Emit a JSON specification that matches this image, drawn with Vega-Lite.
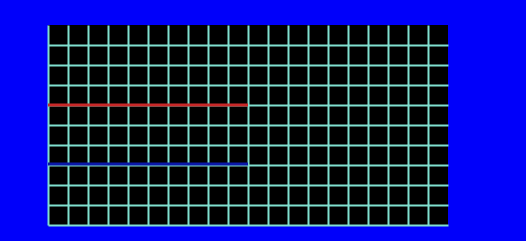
{
  "$schema": "https://vega.github.io/schema/vega-lite/v6.json",
  "width": 400,
  "height": 200,
  "autosize": "none",
  "padding": {"left": 48, "top": 25, "right": 78, "bottom": 16},
  "background": "#0000fa",
  "config": {
    "view": {"fill": "#000000", "stroke": null},
    "axis": {
      "labels": false,
      "ticks": false,
      "domain": false,
      "grid": true,
      "gridColor": "#80e0d0",
      "gridWidth": 2,
      "gridOpacity": 1,
      "title": null
    }
  },
  "data": {
    "values": [
      {"series": "red", "x": 0, "y": 6},
      {"series": "red", "x": 10, "y": 6},
      {"series": "blue", "x": 0, "y": 3.05},
      {"series": "blue", "x": 10, "y": 3.05}
    ]
  },
  "mark": {"type": "line", "strokeWidth": 3, "strokeCap": "butt"},
  "encoding": {
    "x": {
      "field": "x",
      "type": "quantitative",
      "scale": {"domain": [0, 20], "nice": false},
      "axis": {"values": [0,1,2,3,4,5,6,7,8,9,10,11,12,13,14,15,16,17,18,19]}
    },
    "y": {
      "field": "y",
      "type": "quantitative",
      "scale": {"domain": [0, 10], "nice": false},
      "axis": {"values": [0,1,2,3,4,5,6,7,8,9]}
    },
    "color": {
      "field": "series",
      "type": "nominal",
      "scale": {"domain": ["red", "blue"], "range": ["#c82828", "#0a18a8"]},
      "legend": null
    }
  }
}
